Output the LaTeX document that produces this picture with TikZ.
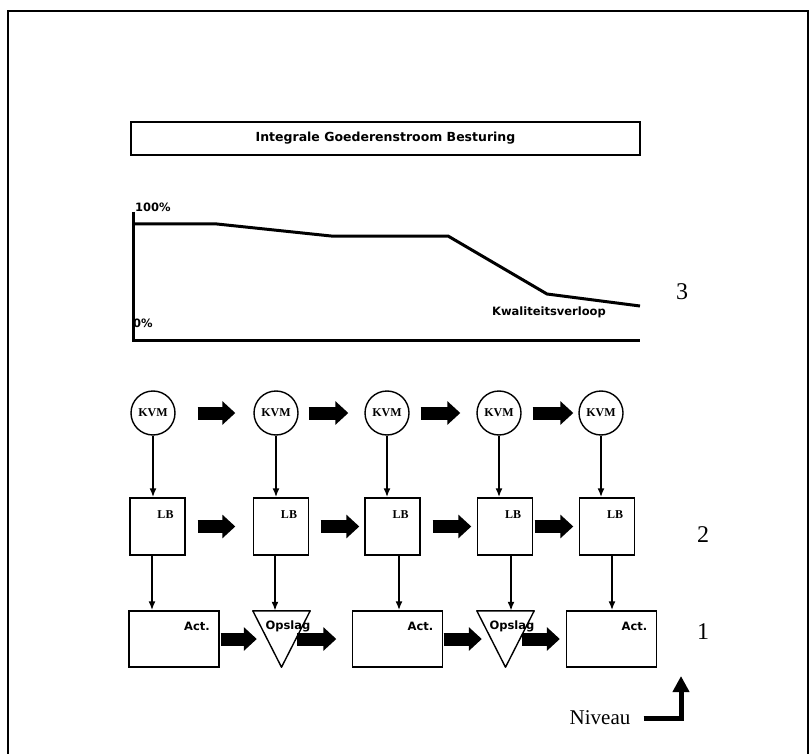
\documentclass[tikz,border=0pt]{standalone}
\usepackage{fontspec}
\setmainfont{Liberation Serif}
\newfontfamily\labelfont{DejaVu Sans}
\usetikzlibrary{arrows.meta, positioning}

\tikzset{
  kvmNode/.style={circle, draw, line width=1.4pt, minimum size=44pt, inner sep=0pt,
                  font=\bfseries\fontsize{12}{14}\selectfont},
  lbBox/.style={draw, line width=1.4pt, minimum width=55pt, minimum height=57pt, inner sep=0pt},
  actBox/.style={draw, line width=1.4pt, minimum width=90pt, minimum height=56pt, inner sep=0pt},
  opBox/.style={minimum width=57pt, minimum height=56pt, inner sep=0pt},
  smallLabel/.style={font=\labelfont\bfseries\fontsize{11.5}{13}\selectfont, inner sep=0pt},
  serifLabel/.style={font=\bfseries\fontsize{12}{14}\selectfont, inner sep=0pt},
  levelLabel/.style={font=\fontsize{24}{28}\selectfont, inner sep=0pt},
  fatArrow/.style={line width=13pt, -{Triangle[length=13pt, width=23pt]}},
  downArrow/.style={line width=1.8pt, -{Latex[length=9pt, width=7pt]}},
}

\begin{document}
\begin{tikzpicture}[x=1pt, y=-1pt]
  \useasboundingbox (0,0) rectangle (811,754);
  % frame, open at the bottom
  \draw[line width=2.4pt] (8,754) -- (8,11) -- (808,11) -- (808,754);

  % title bar
  \node[draw, line width=1.2pt, minimum width=509pt, minimum height=33pt, smallLabel,
        font=\labelfont\bfseries\fontsize{12.5}{14}\selectfont]
        (title) at (385.5,138.5) {Integrale Goederenstroom Besturing};

  % quality curve
  \draw[line width=3pt] (133,212) -- (133,340) -- (640,340);
  \draw[line width=3pt, line join=round]
    (133,224) -- (217,224) -- (331,236) -- (448,236) -- (547,294) -- (640,306);
  \node[smallLabel, anchor=west] (full) at (135,207) {100\%};
  \node[smallLabel, anchor=west] (zero) at (133,323) {0\%};
  \node[smallLabel] (curve) at (549,312) {Kwaliteitsverloop};
  \node[levelLabel] (lvlThree) at (682,292) {3};

  % KVM and LB columns
  \foreach \n/\x in {1/153, 2/276, 3/387, 4/499, 5/601}
    \node[kvmNode] (k\n) at (\x,413) {KVM};
  \foreach \n/\x in {1/157.5, 2/281, 3/392.5, 4/505, 5/607} {
    \node[lbBox] (l\n) at (\x,526.5) {};
    \node[serifLabel] (lbl\n) at ([xshift=8pt, yshift=-17pt]l\n.north) {LB};
    \draw[downArrow] (k\n) -- (k\n |- l\n.north);
  }
  \node[levelLabel] (lvlTwo) at (703,535) {2};

  % activities and storage
  \foreach \n/\x in {1/174, 3/397.5, 5/611.5} {
    \node[actBox] (a\n) at (\x,639) {};
    \node[smallLabel] (act\n) at ([xshift=23pt, yshift=-16pt]a\n.north) {Act.};
  }
  \foreach \n/\x in {2/281.5, 4/505.5} {
    \node[opBox] (a\n) at (\x,639) {};
    \draw[line width=1.4pt, line join=round] (a\n.north west) -- (a\n.north east) -- (a\n.south) -- cycle;
    \node[smallLabel] (ops\n) at ([xshift=6.5pt, yshift=-16pt]a\n.north) {Opslag};
  }
  \foreach \n/\x in {1/152, 2/275, 3/399, 4/511, 5/612} {
    \coordinate (d\n) at (\x,0);
    \draw[downArrow] (l\n.south -| d\n) -- (a\n.north -| d\n);
  }
  \node[levelLabel] (lvlOne) at (703,632) {1};

  % flow arrows
  \foreach \a/\b/\s/\e in {k1/k2/22/18, k2/k3/10/16, k3/k4/11/16, k4/k5/11/5,
                            l1/l2/12/17.5, l2/l3/11.5/5, l3/l4/12/5.5, l4/l5/1.5/5.5,
                            a1/a2/1/-4, a2/a3/-13/15.5, a3/a4/0.5/-5, a4/a5/-12/6}
    \draw[fatArrow, shorten <=\s pt, shorten >=\e pt] (\a) -- (\b);

  % level indicator
  \node[font=\fontsize{21}{24}\selectfont, inner sep=0pt] (niveau) at (600,718) {Niveau};
  \coordinate (nivTip) at (681,676);
  \draw[line width=5pt, -{Triangle[length=16pt, width=16pt]}, shorten <=13pt]
    (niveau.east) -| (nivTip);
\end{tikzpicture}
\end{document}
